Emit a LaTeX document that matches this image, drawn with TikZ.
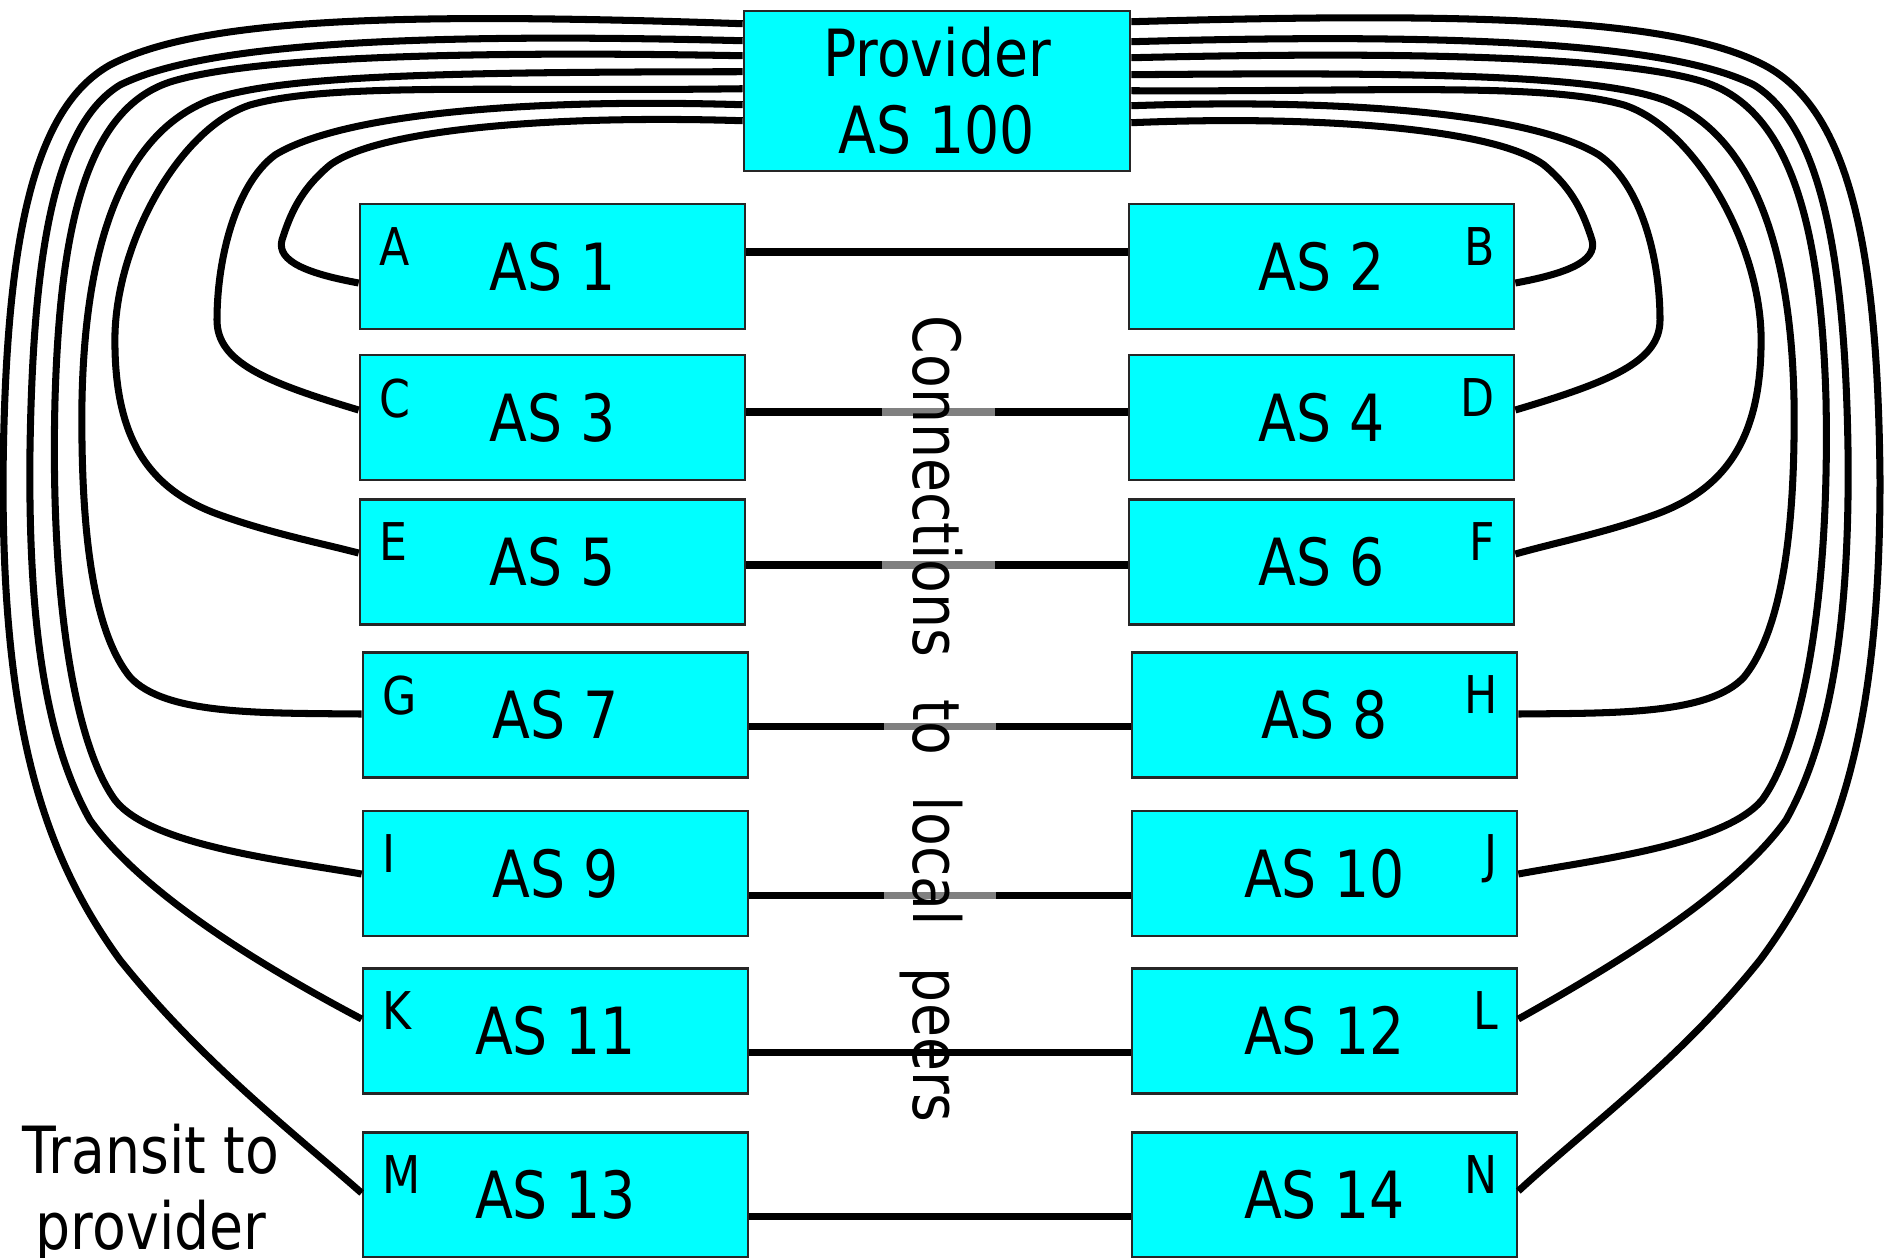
\documentclass[tikz,border=0pt]{standalone}
\usepackage{fontspec}
\setmainfont{DejaVu Sans}[FakeStretch=0.85]
\usetikzlibrary{positioning}
\definecolor{BoxCyan}{RGB}{0,255,255}
\definecolor{BandGray}{RGB}{128,128,128}

\begin{document}
\begin{tikzpicture}[x=0.01cm, y=-0.01cm,
    asbox/.style={draw=black!85, line width=0.7pt, fill=BoxCyan, rectangle, minimum width=3.85cm, minimum height=1.25cm, inner sep=0pt, font=\fontsize{18.5}{21.8}\selectfont},
    corner/.style={inner sep=0pt, font=\fontsize{14.8}{17}\selectfont},
    wire/.style={line width=2pt, line join=round},
    band/.style={line width=2pt, draw=BandGray}]
    \useasboundingbox (0,0) rectangle (1885,1257);

    \node[asbox, minimum width=3.86cm, minimum height=1.6cm, align=center] (prov) at (937,91) {Provider\\AS 100};

    \node[asbox] (as1) at (552.5,266.5) {AS 1};
    \node[asbox] (as2) at (1321.5,266.5) {AS 2};
    \node[asbox] (as3) at (552.5,417.5) {AS 3};
    \node[asbox] (as4) at (1321.5,417.5) {AS 4};
    \node[asbox] (as5) at (552.5,562) {AS 5};
    \node[asbox] (as6) at (1321.5,562) {AS 6};
    \node[asbox] (as7) at (555.5,715) {AS 7};
    \node[asbox] (as8) at (1324.5,715) {AS 8};
    \node[asbox] (as9) at (555.5,873.5) {AS 9};
    \node[asbox] (as10) at (1324.5,873.5) {AS 10};
    \node[asbox] (as11) at (555.5,1031) {AS 11};
    \node[asbox] (as12) at (1324.5,1031) {AS 12};
    \node[asbox] (as13) at (555.5,1195) {AS 13};
    \node[asbox] (as14) at (1324.5,1195) {AS 14};

    \node[corner, below right=0.24cm and 0.2cm of as1.north west] (la) {A};
    \node[corner, below left=0.24cm and 0.2cm of as2.north east] (lb) {B};
    \node[corner, below right=0.24cm and 0.2cm of as3.north west] (lc) {C};
    \node[corner, below left=0.24cm and 0.2cm of as4.north east] (ld) {D};
    \node[corner, below right=0.24cm and 0.2cm of as5.north west] (le) {E};
    \node[corner, below left=0.24cm and 0.2cm of as6.north east] (lf) {F};
    \node[corner, below right=0.24cm and 0.2cm of as7.north west] (lg) {G};
    \node[corner, below left=0.24cm and 0.2cm of as8.north east] (lh) {H};
    \node[corner, below right=0.24cm and 0.2cm of as9.north west] (li) {I};
    \node[corner, below left=0.24cm and 0.2cm of as10.north east] (lj) {J};
    \node[corner, below right=0.24cm and 0.2cm of as11.north west] (lk) {K};
    \node[corner, below left=0.24cm and 0.2cm of as12.north east] (ll) {L};
    \node[corner, below right=0.24cm and 0.2cm of as13.north west] (lm) {M};
    \node[corner, below left=0.24cm and 0.2cm of as14.north east] (ln) {N};

    \coordinate (pa) at ([shift={(0,111)}]prov.north west);
    \coordinate (pc) at ([shift={(0,95)}]prov.north west);
    \coordinate (pe) at ([shift={(0,79)}]prov.north west);
    \coordinate (pg) at ([shift={(0,62)}]prov.north west);
    \coordinate (pi) at ([shift={(0,46)}]prov.north west);
    \coordinate (pk) at ([shift={(0,31)}]prov.north west);
    \coordinate (pm) at ([shift={(0,14)}]prov.north west);
    \coordinate (pb) at ([shift={(0,113)}]prov.north east);
    \coordinate (pd) at ([shift={(0,96)}]prov.north east);
    \coordinate (pf) at ([shift={(0,81)}]prov.north east);
    \coordinate (ph) at ([shift={(0,65)}]prov.north east);
    \coordinate (pj) at ([shift={(0,48)}]prov.north east);
    \coordinate (pl) at ([shift={(0,32)}]prov.north east);
    \coordinate (pn) at ([shift={(0,12)}]prov.north east);

    \draw[wire] (pa) .. controls (560,115) and (380,128) .. (330,165) .. controls (300,190) and (290,215) .. (282,240) .. controls (276,262) and (310,274) .. ([shift={(0,16.5)}]as1.west);
    \draw[wire] (pc) .. controls (520,98) and (340,115) .. (275,155) .. controls (235,185) and (217,260) .. (217,320) .. controls (217,362) and (265,382) .. ([shift={(0,-7.5)}]as3.west);
    \draw[wire] (pe) .. controls (500,92) and (330,82) .. (250,105) .. controls (180,128) and (118,240) .. (115,333) .. controls (113,440) and (150,490) .. (220,515) .. controls (270,533) and (320,543) .. ([shift={(0,-9)}]as5.west);
    \draw[wire] (pg) .. controls (450,72) and (280,75) .. (210,100) .. controls (120,135) and (85,250) .. (82,400) .. controls (80,560) and (100,640) .. (130,677) .. controls (165,715) and (260,713) .. ([shift={(0,-1)}]as7.west);
    \draw[wire] (pi) .. controls (420,50) and (240,60) .. (170,82) .. controls (85,110) and (60,230) .. (55,400) .. controls (50,600) and (75,745) .. (115,800) .. controls (150,845) and (280,860) .. ([shift={(0,0.5)}]as9.west);
    \draw[wire] (pk) .. controls (400,32) and (200,45) .. (120,85) .. controls (55,125) and (33,250) .. (30,450) .. controls (28,620) and (45,740) .. (90,820) .. controls (140,890) and (250,960) .. ([shift={(0,-12)}]as11.west);
    \draw[wire] (pm) .. controls (400,12) and (200,18) .. (110,65) .. controls (30,110) and (5,250) .. (3,480) .. controls (3,720) and (40,850) .. (120,960) .. controls (200,1060) and (290,1130) .. ([shift={(0,-2)}]as13.west);

    \draw[wire] (pb) .. controls (1314,115) and (1494,128) .. (1544,165) .. controls (1574,190) and (1584,215) .. (1592,240) .. controls (1598,262) and (1564,274) .. ([shift={(0,16.5)}]as2.east);
    \draw[wire] (pd) .. controls (1354,98) and (1534,115) .. (1599,155) .. controls (1642,185) and (1660,260) .. (1660,320) .. controls (1660,362) and (1609,382) .. ([shift={(0,-7.5)}]as4.east);
    \draw[wire] (pf) .. controls (1374,92) and (1544,82) .. (1624,105) .. controls (1694,128) and (1758,240) .. (1761,333) .. controls (1763,440) and (1724,490) .. (1654,515) .. controls (1604,533) and (1554,543) .. ([shift={(0,-8)}]as6.east);
    \draw[wire] (ph) .. controls (1424,72) and (1594,75) .. (1664,100) .. controls (1754,135) and (1791,250) .. (1794,400) .. controls (1796,560) and (1774,640) .. (1744,677) .. controls (1709,715) and (1614,713) .. ([shift={(0,-1)}]as8.east);
    \draw[wire] (pj) .. controls (1454,50) and (1634,60) .. (1704,82) .. controls (1792,110) and (1821,230) .. (1826,400) .. controls (1830,600) and (1802,745) .. (1762,800) .. controls (1724,845) and (1594,860) .. ([shift={(0,0.5)}]as10.east);
    \draw[wire] (pl) .. controls (1474,32) and (1674,45) .. (1754,85) .. controls (1819,125) and (1845,250) .. (1848,450) .. controls (1850,620) and (1831,740) .. (1786,820) .. controls (1736,890) and (1624,960) .. ([shift={(0,-12)}]as12.east);
    \draw[wire] (pn) .. controls (1474,12) and (1674,18) .. (1764,65) .. controls (1850,110) and (1878,250) .. (1880,480) .. controls (1880,720) and (1842,850) .. (1760,960) .. controls (1680,1060) and (1590,1125) .. ([shift={(0,-4)}]as14.east);

    \draw[wire] ([shift={(0,-14.5)}]as1.east) -- ([shift={(0,-14.5)}]as2.west);
    \draw[wire] ([shift={(0,-5.5)}]as3.east) -- coordinate[pos=0.355] (g3) coordinate[pos=0.652] (h3) ([shift={(0,-5.5)}]as4.west);
    \draw[wire] ([shift={(0,3)}]as5.east) -- coordinate[pos=0.355] (g5) coordinate[pos=0.652] (h5) ([shift={(0,3)}]as6.west);
    \draw[wire] ([shift={(0,11.5)}]as7.east) -- coordinate[pos=0.352] (g7) coordinate[pos=0.648] (h7) ([shift={(0,11.5)}]as8.west);
    \draw[wire] ([shift={(0,21.5)}]as9.east) -- coordinate[pos=0.352] (g9) coordinate[pos=0.648] (h9) ([shift={(0,21.5)}]as10.west);
    \draw[wire] ([shift={(0,21)}]as11.east) -- ([shift={(0,21)}]as12.west);
    \draw[wire] ([shift={(0,21)}]as13.east) -- ([shift={(0,21)}]as14.west);
    \draw[band] (g3) -- (h3);
    \draw[band] (g5) -- (h5);
    \draw[band] (g7) -- (h7);
    \draw[band] (g9) -- (h9);

    \node[rotate=-90, anchor=base west, inner sep=0pt, font=\fontsize{18.5}{21.8}\selectfont] (peers) at (913,315) {Connections\hspace{0.42cm}to\hspace{0.42cm}local\hspace{0.42cm}peers};
    \node[align=center, anchor=north, inner sep=0pt, font=\fontsize{18.5}{21.8}\selectfont] (transit) at (151,1123) {Transit to\\provider};
\end{tikzpicture}
\end{document}
